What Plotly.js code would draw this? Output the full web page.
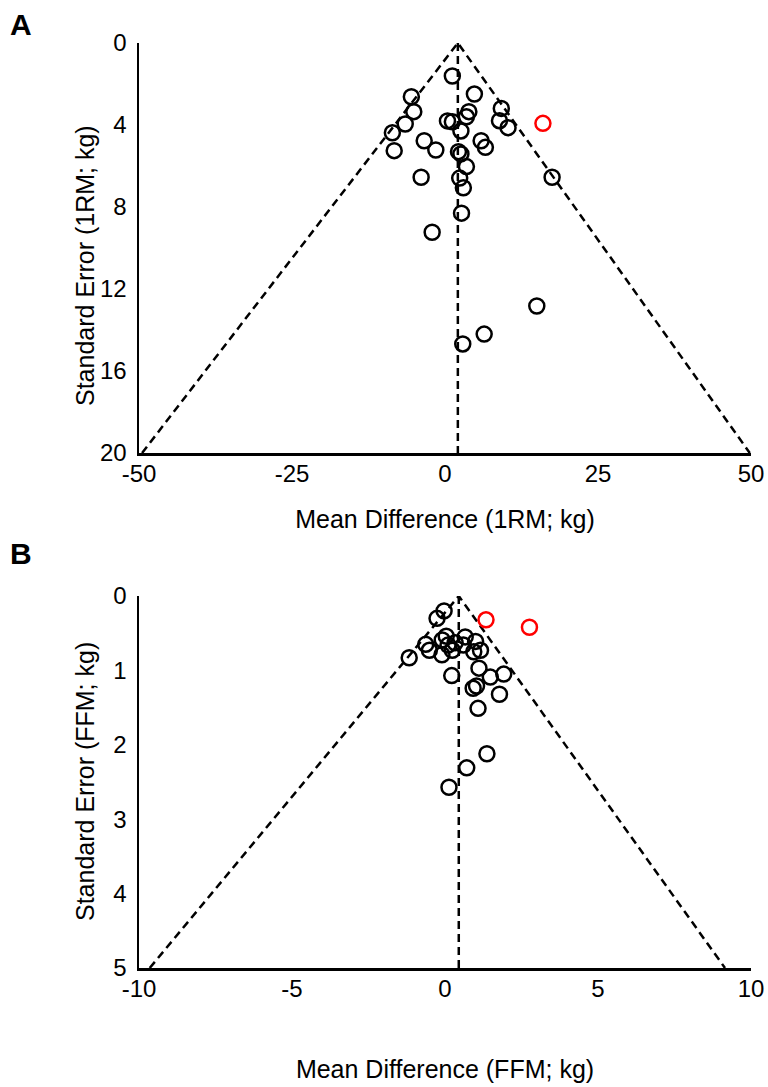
<!DOCTYPE html>
<html>
<head>
<meta charset="utf-8">
<script src="https://cdn.plot.ly/plotly-3.0.1.min.js"></script>
<style>html,body{margin:0;padding:0;background:#fff;}#chart{width:768px;height:1087px;}</style>
</head>
<body>
<div id="chart"></div>
<script>
// Panel A: 1RM
const a_md = [1.2, 4.8, -5.5, -5.1, -6.5, -8.6, -8.3, -3.4, -1.5, 0.4, 1.2, 2.6, 3.9, 3.5, 9.2, 8.9, 10.3, 5.9, 6.6, 2.2, 2.6, 3.5, -3.9, 2.4, 3.0, 17.5, 2.7, -2.1, 15.0, 6.4, 2.9];
const a_se = [1.61, 2.49, 2.62, 3.35, 3.95, 4.38, 5.25, 4.77, 5.22, 3.80, 3.84, 4.29, 3.35, 3.60, 3.19, 3.79, 4.13, 4.77, 5.09, 5.30, 5.41, 6.03, 6.55, 6.59, 7.06, 6.55, 8.30, 9.23, 12.83, 14.20, 14.68];
const a_out_md = [16.0];
const a_out_se = [3.92];
const a_mean = 2.1;
const a_funnel_x = [-49.5, 2.1, 49.8];
const a_funnel_y = [20, 0, 20];
const a_xticks = [-50, -25, 0, 25, 50];
const a_xticktext = ['-50', '-25', '0', '25', '50'];
const a_yticks = [0, 4, 8, 12, 16, 20];

// Panel B: FFM
const b_md = [-0.03, -0.26, -1.17, -0.63, -0.51, -0.09, 0.04, 0.10, -0.10, 0.24, 0.33, 0.66, 0.60, 1.00, 1.16, 0.94, 0.22, 1.11, 1.48, 1.92, 0.92, 1.03, 1.78, 1.08, 1.37, 0.71, 0.13];
const b_se = [0.20, 0.30, 0.83, 0.65, 0.73, 0.59, 0.54, 0.66, 0.79, 0.73, 0.63, 0.55, 0.66, 0.61, 0.73, 0.75, 1.07, 0.97, 1.09, 1.05, 1.24, 1.21, 1.32, 1.51, 2.12, 2.31, 2.57];
const b_out_md = [1.34, 2.76];
const b_out_se = [0.32, 0.42];
const b_mean = 0.45;
const b_funnel_x = [-9.65, 0.45, 9.15];
const b_funnel_y = [5, 0, 5];
const b_xticks = [-10, -5, 0, 5, 10];
const b_xticktext = ['-10', '-5', '0', '5', '10'];
const b_yticks = [0, 1, 2, 3, 4, 5];

const FONT = 'Liberation Sans, Arial, sans-serif';
const FS = 24;
const dashStyle = {color: '#000', width: 2.5, dash: '8px,5px'};
const openBlack = {symbol: 'circle-open', size: 15, color: '#000', line: {width: 2.5, color: '#000'}};
const openRed = {symbol: 'circle-open', size: 15, color: '#ff0000', line: {width: 2.5, color: '#ff0000'}};

const traces = [
  {x: a_funnel_x, y: a_funnel_y, mode: 'lines', line: dashStyle, xaxis: 'x', yaxis: 'y', hoverinfo: 'skip'},
  {x: [a_mean, a_mean], y: [0, 20], mode: 'lines', line: dashStyle, xaxis: 'x', yaxis: 'y', hoverinfo: 'skip'},
  {x: a_md, y: a_se, mode: 'markers', marker: openBlack, xaxis: 'x', yaxis: 'y'},
  {x: a_out_md, y: a_out_se, mode: 'markers', marker: openRed, xaxis: 'x', yaxis: 'y'},
  {x: b_funnel_x, y: b_funnel_y, mode: 'lines', line: dashStyle, xaxis: 'x2', yaxis: 'y2', hoverinfo: 'skip'},
  {x: [b_mean, b_mean], y: [0, 5], mode: 'lines', line: dashStyle, xaxis: 'x2', yaxis: 'y2', hoverinfo: 'skip'},
  {x: b_md, y: b_se, mode: 'markers', marker: openBlack, xaxis: 'x2', yaxis: 'y2'},
  {x: b_out_md, y: b_out_se, mode: 'markers', marker: openRed, xaxis: 'x2', yaxis: 'y2'}
];

const W = 768, H = 1087;
const xd = [139 / W, 751 / W];
const axBase = {
  showline: true, linecolor: '#000', linewidth: 2.5, showgrid: false, zeroline: false,
  ticks: '', tickfont: {family: FONT, size: FS, color: '#000'}, fixedrange: true
};
const titleFont = {family: FONT, size: 25, color: '#000'};

const layout = {
  width: W, height: H,
  margin: {l: 0, r: 0, t: 0, b: 0},
  paper_bgcolor: '#fff', plot_bgcolor: '#fff',
  showlegend: false,
  font: {family: FONT, color: '#000'},
  xaxis: Object.assign({}, axBase, {
    domain: xd, anchor: 'y', range: [-50, 50], tickvals: a_xticks, ticktext: a_xticktext,
    ticklabelstandoff: -2,
    title: {text: 'Mean Difference (1RM; kg)', font: titleFont, standoff: 24}
  }),
  yaxis: Object.assign({}, axBase, {
    domain: [(H - 453) / H, (H - 43) / H], anchor: 'x', range: [20, 0], tickvals: a_yticks,
    ticklabelstandoff: 5
  }),
  xaxis2: Object.assign({}, axBase, {
    domain: xd, anchor: 'y2', range: [-10, 10], tickvals: b_xticks, ticktext: b_xticktext,
    ticklabelstandoff: -2,
    title: {text: 'Mean Difference (FFM; kg)', font: titleFont, standoff: 59}
  }),
  yaxis2: Object.assign({}, axBase, {
    domain: [(H - 968) / H, (H - 596) / H], anchor: 'x2', range: [5, 0], tickvals: b_yticks,
    ticklabelstandoff: 5
  }),
  annotations: [
    {text: '<b>A</b>', xref: 'paper', yref: 'paper', x: 8 / W, y: 1 - 24 / H, xanchor: 'left', yanchor: 'middle', showarrow: false, font: {family: FONT, size: 30, color: '#000'}},
    {text: '<b>B</b>', xref: 'paper', yref: 'paper', x: 8 / W, y: 1 - 553 / H, xanchor: 'left', yanchor: 'middle', showarrow: false, font: {family: FONT, size: 30, color: '#000'}},
    {text: 'Standard Error (1RM; kg)', textangle: -90, xref: 'paper', yref: 'paper', x: 85 / W, y: 1 - 266 / H, xanchor: 'center', yanchor: 'middle', showarrow: false, font: titleFont},
    {text: 'Standard Error (FFM; kg)', textangle: -90, xref: 'paper', yref: 'paper', x: 85 / W, y: 1 - 782 / H, xanchor: 'center', yanchor: 'middle', showarrow: false, font: titleFont}
  ]
};

Plotly.newPlot('chart', traces, layout, {staticPlot: true, displayModeBar: false});
</script>
</body>
</html>
